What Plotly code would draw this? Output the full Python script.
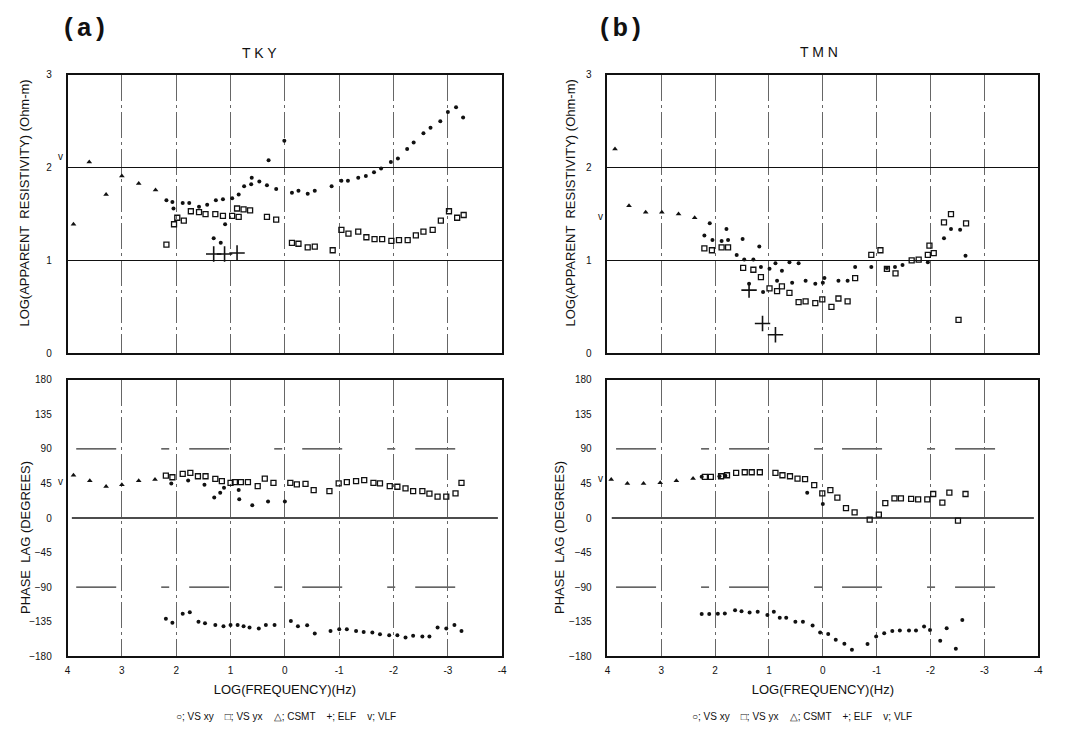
import plotly.graph_objects as go

# ---------------- (a) TKY : apparent resistivity ----------------
a_rho_csmt_x = [3.89, 3.60, 3.29, 3.00, 2.69, 2.38]
a_rho_csmt_y = [1.39, 2.06, 1.71, 1.91, 1.83, 1.76]
a_rho_xy_x = [2.18, 2.07, 2.05, 1.88, 1.76, 1.58, 1.43, 1.31, 1.27, 1.18, 1.14, 1.10, 0.97, 0.85,
              0.75, 0.62, 0.61, 0.47, 0.33, 0.30, 0.16, 0.01, -0.13, -0.25, -0.42, -0.55, -0.86,
              -1.04, -1.16, -1.35, -1.49, -1.64, -1.77, -1.95, -2.08, -2.25, -2.37, -2.55, -2.68,
              -2.86, -3.00, -3.15, -3.28]
a_rho_xy_y = [1.65, 1.63, 1.56, 1.62, 1.62, 1.58, 1.60, 1.24, 1.65, 1.19, 1.66, 1.39, 1.67, 1.71,
              1.80, 1.82, 1.89, 1.85, 1.81, 2.08, 1.77, 2.29, 1.73, 1.75, 1.72, 1.75, 1.80,
              1.86, 1.86, 1.89, 1.91, 1.95, 1.99, 2.06, 2.10, 2.20, 2.27, 2.37, 2.43,
              2.50, 2.60, 2.65, 2.54]
a_rho_yx_x = [2.18, 2.04, 1.98, 1.86, 1.73, 1.58, 1.46, 1.28, 1.14, 0.97, 0.88, 0.85, 0.76, 0.64,
              0.33, 0.16, -0.13, -0.25, -0.42, -0.55, -0.88, -1.04, -1.17, -1.35, -1.50, -1.65,
              -1.79, -1.96, -2.10, -2.26, -2.41, -2.55, -2.72, -2.87, -3.02, -3.17, -3.29]
a_rho_yx_y = [1.17, 1.39, 1.46, 1.43, 1.53, 1.52, 1.50, 1.50, 1.48, 1.48, 1.56, 1.47, 1.55, 1.54,
              1.47, 1.44, 1.19, 1.18, 1.14, 1.15, 1.11, 1.33, 1.29, 1.31, 1.25, 1.23,
              1.23, 1.21, 1.22, 1.22, 1.27, 1.31, 1.33, 1.43, 1.53, 1.46, 1.49]
a_rho_elf_x = [1.31, 1.11, 0.88]
a_rho_elf_y = [1.07, 1.07, 1.08]
a_rho_vlf_x = [3.99]
a_rho_vlf_y = [2.12]

# ---------------- (a) TKY : phase ----------------
a_ph_csmt_x = [3.89, 3.59, 3.29, 3.00, 2.69, 2.39]
a_ph_csmt_y = [55.7, 48.4, 41.1, 43.3, 48.4, 50.1]
a_ph_xy_x = [2.09, 1.78, 1.48, 1.30, 1.19, 1.12, 0.85, 0.84, 0.60, 0.31, 0.00]
a_ph_xy_y = [45.0, 48.9, 43.3, 26.6, 33.0, 39.4, 36.4, 24.4, 16.7, 21.4, 21.4]
a_ph_yx_x = [2.19, 2.07, 1.88, 1.74, 1.60, 1.46, 1.28, 1.16, 1.00, 0.92, 0.81, 0.68, 0.50, 0.37,
             0.21, -0.10, -0.22, -0.38, -0.53, -0.82, -0.99, -1.14, -1.31, -1.46, -1.63, -1.75,
             -1.93, -2.07, -2.22, -2.36, -2.53, -2.66, -2.81, -2.97, -3.14, -3.25]
a_ph_yx_y = [55.3, 53.1, 57.4, 58.7, 54.4, 54.4, 51.0, 48.0, 45.9, 46.7, 46.7, 46.7, 41.6, 51.4,
             45.9, 45.9, 43.7, 44.6, 36.4, 35.1, 45.0, 46.7, 48.0, 49.3, 45.9, 45.0,
             41.6, 40.7, 38.6, 35.1, 35.1, 31.7, 27.9, 27.9, 32.1, 45.9]
a_ph_xy2_x = [2.19, 2.07, 1.88, 1.75, 1.59, 1.47, 1.28, 1.13, 1.00, 0.87, 0.76, 0.65, 0.48, 0.35,
              0.19, -0.11, -0.24, -0.41, -0.55, -0.84, -1.00, -1.14, -1.31, -1.45, -1.61, -1.75,
              -1.92, -2.07, -2.22, -2.36, -2.53, -2.66, -2.81, -2.97, -3.12, -3.25]
a_ph_xy2_y = [-131.1, -136.3, -124.7, -122.6, -135.0, -137.1, -139.3, -141.0, -139.3, -139.3,
              -141.0, -142.7, -144.0, -139.3, -139.3, -134.1, -141.0, -139.7, -150.4, -147.0,
              -144.9, -144.9, -147.0, -148.3, -149.2, -151.3, -152.6, -152.6, -155.6, -153.4,
              -154.3, -154.3, -142.7, -144.0, -139.3, -147.0]
a_ph_vlf_x = [3.99]
a_ph_vlf_y = [48]

# ---------------- (b) TMN : apparent resistivity ----------------
b_rho_csmt_x = [3.86, 3.60, 3.29, 2.99, 2.68, 2.38]
b_rho_csmt_y = [2.20, 1.59, 1.52, 1.52, 1.50, 1.46]
b_rho_xy_x = [2.20, 2.10, 2.05, 1.88, 1.79, 1.76, 1.60, 1.49, 1.46, 1.37, 1.29, 1.18, 1.15, 1.11,
              0.99, 0.88, 0.85, 0.76, 0.62, 0.57, 0.45, 0.32, 0.14, 0.00, -0.03, -0.29, -0.46,
              -0.60, -0.90, -1.19, -1.34, -1.48, -1.95, -2.25, -2.38, -2.55, -2.65]
b_rho_xy_y = [1.27, 1.40, 1.22, 1.21, 1.34, 1.22, 1.06, 1.23, 1.01, 0.75, 1.01, 1.15, 0.93, 0.66,
              0.91, 0.97, 0.78, 0.89, 0.98, 0.76, 0.97, 0.78, 0.75, 0.76, 0.81, 0.78, 0.78,
              0.93, 0.93, 0.92, 0.93, 0.95, 0.98, 1.24, 1.34, 1.33, 1.05]
b_rho_yx_x = [2.20, 2.06, 1.88, 1.76, 1.48, 1.29, 1.15, 0.99, 0.85, 0.76, 0.62, 0.45, 0.32, 0.14,
              0.01, -0.16, -0.29, -0.46, -0.60, -0.90, -1.07, -1.19, -1.35, -1.65, -1.78, -1.95,
              -1.98, -2.06, -2.25, -2.38, -2.52, -2.66]
b_rho_yx_y = [1.13, 1.11, 1.14, 1.14, 0.92, 0.90, 0.82, 0.70, 0.67, 0.72, 0.65, 0.55, 0.56, 0.54,
              0.58, 0.50, 0.59, 0.56, 0.81, 1.06, 1.11, 0.91, 0.86, 1.00, 1.01, 1.06,
              1.16, 1.08, 1.41, 1.50, 0.36, 1.40]
b_rho_elf_x = [1.37, 1.12, 0.88]
b_rho_elf_y = [0.68, 0.32, 0.20]
b_rho_vlf_x = [3.99]
b_rho_vlf_y = [1.47]

# ---------------- (b) TMN : phase ----------------
b_ph_csmt_x = [3.93, 3.63, 3.33, 3.02, 2.72, 2.41]
b_ph_csmt_y = [50.1, 45.0, 45.0, 45.9, 48.4, 51.4]
b_ph_xy_x = [2.25, 1.92, 1.81, 0.29, -0.00]
b_ph_xy_y = [53.6, 54.4, 54.9, 33.0, 18.4]
b_ph_yx_x = [2.19, 2.08, 1.89, 1.78, 1.61, 1.45, 1.32, 1.17, 0.88, 0.75, 0.61, 0.47, 0.33, 0.16,
             0.01, -0.14, -0.27, -0.43, -0.59, -0.87, -1.04, -1.16, -1.33, -1.45, -1.64, -1.77,
             -1.94, -2.05, -2.22, -2.35, -2.51, -2.65]
b_ph_yx_y = [53.6, 53.6, 54.4, 55.7, 58.7, 59.6, 59.6, 59.6, 58.7, 55.7, 54.4, 51.4, 50.6, 42.9,
             32.1, 36.4, 26.6, 12.9, 7.3, -2.1, 4.3, 19.3, 25.7, 25.7, 24.9, 24.4,
             24.4, 31.3, 20.1, 33.0, -3.4, 31.3]
b_ph_xy2_x = [2.25, 2.11, 1.95, 1.82, 1.63, 1.51, 1.36, 1.21, 1.03, 0.91, 0.80, 0.68, 0.51, 0.37,
              0.19, 0.05, -0.10, -0.24, -0.40, -0.54, -0.83, -0.99, -1.14, -1.29, -1.43, -1.60,
              -1.73, -1.88, -1.99, -2.18, -2.30, -2.47, -2.59]
b_ph_xy2_y = [-125.1, -125.1, -124.7, -124.3, -120.0, -121.3, -123.0, -122.1, -126.4, -122.1,
              -129.9, -129.9, -135.0, -135.0, -140.1, -149.1, -150.9, -158.6, -163.7, -171.4,
              -164.1, -154.3, -150.0, -147.0, -146.6, -146.6, -146.6, -141.4, -145.7, -159.9,
              -143.6, -170.1, -132.9]
b_ph_vlf_x = [3.99]
b_ph_vlf_y = [52]

x_ticks = [4, 3, 2, 1, 0, -1, -2, -3, -4]
rho_ticks = [0, 1, 2, 3]
phase_ticks = [-180, -135, -90, -45, 0, 45, 90, 135, 180]
legend_text = "○; VS xy    □; VS yx    △; CSMT    +; ELF    v; VLF"

FONT = "Liberation Sans"
INK = "#111111"

fig = go.Figure()
vlf_annotations = []


def add_series(xa, ya, csmt, xy, yx, elf, vlf, xy2=None):
    cx, cy = csmt
    fig.add_trace(go.Scatter(x=cx, y=cy, mode="markers", xaxis=xa, yaxis=ya, name="CSMT",
                             marker=dict(symbol="triangle-up", size=5, color=INK)))
    fig.add_trace(go.Scatter(x=xy[0], y=xy[1], mode="markers", xaxis=xa, yaxis=ya, name="VS xy",
                             marker=dict(symbol="circle", size=4, color=INK)))
    if xy2 is not None:
        fig.add_trace(go.Scatter(x=xy2[0], y=xy2[1], mode="markers", xaxis=xa, yaxis=ya,
                                 name="VS xy", marker=dict(symbol="circle", size=4, color=INK)))
    fig.add_trace(go.Scatter(x=yx[0], y=yx[1], mode="markers", xaxis=xa, yaxis=ya, name="VS yx",
                             marker=dict(symbol="square-open", size=5, color=INK,
                                         line=dict(width=1.3, color=INK))))
    if elf is not None:
        fig.add_trace(go.Scatter(x=elf[0], y=elf[1], mode="markers", xaxis=xa, yaxis=ya,
                                 name="ELF",
                                 marker=dict(symbol="cross-thin-open", size=11, color=INK,
                                             line=dict(width=1.6, color=INK))))
    # VLF values sit on the high-frequency edge; the "v" glyph is drawn just outside the frame
    for vx, vy in zip(vlf[0], vlf[1]):
        vlf_annotations.append(dict(text="v", x=vx, y=vy, xref=xa, yref=ya, showarrow=False,
                                    xanchor="right", yanchor="middle", xshift=-3,
                                    font=dict(family=FONT, size=10, color=INK)))


add_series("x", "y", (a_rho_csmt_x, a_rho_csmt_y), (a_rho_xy_x, a_rho_xy_y),
           (a_rho_yx_x, a_rho_yx_y), (a_rho_elf_x, a_rho_elf_y), (a_rho_vlf_x, a_rho_vlf_y))
add_series("x2", "y2", (a_ph_csmt_x, a_ph_csmt_y), (a_ph_xy_x, a_ph_xy_y),
           (a_ph_yx_x, a_ph_yx_y), None, (a_ph_vlf_x, a_ph_vlf_y), (a_ph_xy2_x, a_ph_xy2_y))
add_series("x3", "y3", (b_rho_csmt_x, b_rho_csmt_y), (b_rho_xy_x, b_rho_xy_y),
           (b_rho_yx_x, b_rho_yx_y), (b_rho_elf_x, b_rho_elf_y), (b_rho_vlf_x, b_rho_vlf_y))
add_series("x4", "y4", (b_ph_csmt_x, b_ph_csmt_y), (b_ph_xy_x, b_ph_xy_y),
           (b_ph_yx_x, b_ph_yx_y), None, (b_ph_vlf_x, b_ph_vlf_y), (b_ph_xy2_x, b_ph_xy2_y))

W, H = 1071, 737


def px_x(v):
    return v / W


def px_y(v):
    return 1 - v / H


dom_a = [px_x(65), px_x(503)]
dom_b = [px_x(609), px_x(1043)]
dom_top = [px_y(353), px_y(70)]
dom_bot = [px_y(661), px_y(380)]

xcommon = dict(range=[4, -4], tickvals=x_ticks, ticktext=[str(t) for t in x_ticks],
               showgrid=True, gridcolor="#666666", gridwidth=1, griddash="26px,4px,3px,4px",
               zeroline=False, showline=True, linecolor=INK, linewidth=1.6, mirror=True,
               ticks="", ticklabelstandoff=4, tickfont=dict(family=FONT, size=10, color=INK))
ycommon = dict(zeroline=False, showline=True, linecolor=INK, linewidth=1.6, mirror=True,
               ticks="", ticklabelstandoff=12, tickfont=dict(family=FONT, size=10, color=INK))

xtitle = dict(text="LOG(FREQUENCY)(Hz)", font=dict(family=FONT, size=13, color=INK), standoff=10)

fig.update_layout(
    width=W, height=H,
    margin=dict(l=0, r=0, t=0, b=0),
    paper_bgcolor="white", plot_bgcolor="white",
    showlegend=False,
    xaxis=dict(xcommon, domain=dom_a, anchor="y", showticklabels=False),
    yaxis=dict(ycommon, domain=dom_top, anchor="x", range=[0, 3], tickvals=rho_ticks,
               showgrid=True, gridcolor=INK, gridwidth=1.4),
    xaxis2=dict(xcommon, domain=dom_a, anchor="y2", title=xtitle),
    yaxis2=dict(ycommon, domain=dom_bot, anchor="x2", range=[-180, 180], tickvals=phase_ticks,
                showgrid=False),
    xaxis3=dict(xcommon, domain=dom_b, anchor="y3", showticklabels=False),
    yaxis3=dict(ycommon, domain=dom_top, anchor="x3", range=[0, 3], tickvals=rho_ticks,
                showgrid=True, gridcolor=INK, gridwidth=1.4),
    xaxis4=dict(xcommon, domain=dom_b, anchor="y4", title=xtitle),
    yaxis4=dict(ycommon, domain=dom_bot, anchor="x4", range=[-180, 180], tickvals=phase_ticks,
                showgrid=False),
)

shapes = []
for xa, ya in (("x2", "y2"), ("x4", "y4")):
    shapes.append(dict(type="line", xref=f"{xa} domain", yref=ya, x0=0.01, x1=0.99, y0=0, y1=0,
                       line=dict(color=INK, width=1.6), layer="below"))
    for yv in (90, -90):
        shapes.append(dict(type="line", xref=f"{xa} domain", yref=ya, x0=0.02, x1=0.98,
                           y0=yv, y1=yv,
                           line=dict(color="#333333", width=1.3, dash="40px,45px,8px,20px"),
                           layer="below"))
fig.update_layout(shapes=shapes)


def label(text, x, y, size, family=FONT, angle=0, bold=False):
    return dict(text=f"<b>{text}</b>" if bold else text, x=px_x(x), y=px_y(y),
                xref="paper", yref="paper", xanchor="center", yanchor="middle",
                showarrow=False, textangle=angle,
                font=dict(family=family, size=size, color=INK))


ann = [
    label("(a)", 82, 23, 26, family="Liberation Mono", bold=True),
    label("(b)", 622, 23, 26, family="Liberation Mono", bold=True),
    label("T K Y", 258, 48, 14),
    label("T M N", 822, 47, 14),
    label("LOG(APPARENT  RESISTIVITY) (Ohm-m)", 22, 200, 13, angle=-90),
    label("PHASE  LAG (DEGREES)", 22, 540, 13, angle=-90),
    label("LOG(APPARENT  RESISTIVITY) (Ohm-m)", 572, 200, 13, angle=-90),
    label("PHASE  LAG (DEGREES)", 560, 540, 13, angle=-90),
    label(legend_text, 285, 722, 10),
    label(legend_text, 805, 722, 10),
] + vlf_annotations
fig.update_layout(annotations=ann)

fig.write_html("out.html", config={"displayModeBar": False},
               post_script="document.body.style.margin='0px';")
